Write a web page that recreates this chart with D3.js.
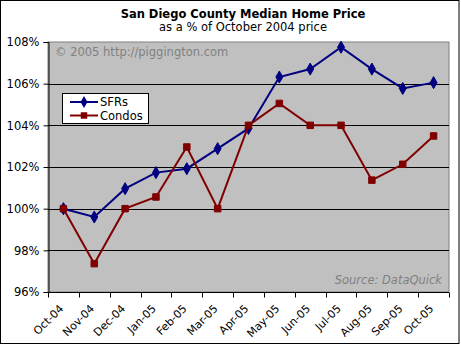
<!DOCTYPE html>
<html>
<head>
<meta charset="utf-8">
<script src="https://cdn.jsdelivr.net/npm/d3@7"></script>
<style>
  html, body { margin: 0; padding: 0; background: #fff; }
  svg { display: block; font-family: "DejaVu Sans", Verdana, sans-serif; }
</style>
</head>
<body>
<svg id="chart" width="461" height="345"></svg>
<script>
// Months, Oct 2004 through Oct 2005
const months = ["Oct-04", "Nov-04", "Dec-04", "Jan-05", "Feb-05", "Mar-05", "Apr-05",
                "May-05", "Jun-05", "Jul-05", "Aug-05", "Sep-05", "Oct-05"];
// Median price as % of the October 2004 price
const sfrValues   = [100, 99.6, 100.96, 101.73, 101.92, 102.88, 103.85, 106.32, 106.7, 107.75, 106.7, 105.77, 106.05];
const condoValues = [100, 97.36, 100, 100.56, 102.96, 100, 104, 105.05, 104, 104, 101.37, 102.13, 103.49];
const yTicks = [96, 98, 100, 102, 104, 106, 108];
const seriesNames = ["SFRs", "Condos"];

const svg = d3.select("#chart");
const plot = { left: 48, right: 449, top: 42, bottom: 292 };

// Outer frame
svg.append("rect").attr("x", 0.5).attr("y", 0.5).attr("width", 458.5).attr("height", 343)
  .attr("fill", "#fff").attr("stroke", "#000").attr("stroke-width", 1);

const x = d3.scaleBand().domain(months).range([plot.left, plot.right]);
const y = d3.scaleLinear().domain([96, 108]).range([plot.bottom, plot.top]);

// Plot area
svg.append("rect")
  .attr("x", plot.left).attr("y", plot.top)
  .attr("width", plot.right - plot.left).attr("height", plot.bottom - plot.top)
  .attr("fill", "#c0c0c0").attr("stroke", "#808080").attr("stroke-width", 1);

// Horizontal gridlines
svg.append("g").selectAll("line")
  .data(yTicks.filter(t => t > 96 && t < 108))
  .join("line")
  .attr("x1", plot.left).attr("x2", plot.right)
  .attr("y1", d => Math.round(y(d)) + 0.5).attr("y2", d => Math.round(y(d)) + 0.5)
  .attr("stroke", "#000").attr("stroke-width", 1);

// Y axis
const yAxis = svg.append("g")
  .attr("transform", `translate(${plot.left + 0.5},0)`)
  .call(d3.axisLeft(y).tickValues(yTicks).tickFormat(d => d + "%").tickSize(5).tickPadding(4));
yAxis.select(".domain").attr("stroke", "#000");
yAxis.selectAll("text").attr("font-size", 11.5).attr("fill", "#000")
  .attr("font-family", "'DejaVu Sans', Verdana, sans-serif");

// X axis: ticks between categories
const xAxisG = svg.append("g").attr("transform", `translate(0,${plot.bottom + 0.5})`);
xAxisG.append("line").attr("x1", plot.left).attr("x2", plot.right)
  .attr("stroke", "#000");
const boundaries = months.map(m => x(m)).concat([plot.right]);
xAxisG.selectAll("line.tick").data(boundaries).join("line").attr("class", "tick")
  .attr("x1", d => Math.round(d) + 0.5).attr("x2", d => Math.round(d) + 0.5)
  .attr("y1", 0).attr("y2", 5).attr("stroke", "#000");
xAxisG.selectAll("text").data(months).join("text")
  .attr("transform", d => `translate(${x(d) + x.bandwidth() / 2 - 2},${14}) rotate(-45)`)
  .attr("text-anchor", "end")
  .attr("dy", "0.35em")
  .attr("font-size", 11)
  .text(d => d);

// Titles
svg.append("text").attr("x", 243).attr("y", 18).attr("text-anchor", "middle")
  .attr("font-size", 11.5).attr("font-weight", "bold")
  .text("San Diego County Median Home Price");
svg.append("text").attr("x", 243).attr("y", 31).attr("text-anchor", "middle")
  .attr("font-size", 11.5)
  .text("as a % of October 2004 price");

// Plot annotations
svg.append("text").attr("x", 55).attr("y", 56).attr("font-size", 11.5).attr("fill", "#808080")
  .text("© 2005 http://piggington.com");
svg.append("text").attr("x", 442).attr("y", 284).attr("text-anchor", "end")
  .attr("font-size", 11.5).attr("font-style", "italic").attr("fill", "#808080")
  .text("Source: DataQuick");

// Series
const colors = { SFRs: "#000080", Condos: "#800000" };
const series = [
  { name: seriesNames[0], values: sfrValues, shape: d3.symbolDiamond, size: 42 },
  { name: seriesNames[1], values: condoValues, shape: d3.symbolSquare, size: 42 }
];
const line = d3.line()
  .x((d, i) => x(months[i]) + x.bandwidth() / 2)
  .y(d => y(d));

series.forEach(s => {
  const g = svg.append("g");
  g.append("path").datum(s.values).attr("d", line)
    .attr("fill", "none").attr("stroke", colors[s.name]).attr("stroke-width", 2);
  g.selectAll("path.mk").data(s.values).join("path").attr("class", "mk")
    .attr("transform", (d, i) => `translate(${x(months[i]) + x.bandwidth() / 2},${y(d)})`)
    .attr("d", d3.symbol().type(s.shape).size(s.size))
    .attr("fill", colors[s.name]).attr("stroke", colors[s.name]).attr("stroke-width", 1);
});

// Legend
const legend = svg.append("g");
legend.append("rect").attr("x", 62.5).attr("y", 93.5).attr("width", 86).attr("height", 30)
  .attr("fill", "#fff").attr("stroke", "#000");
series.forEach((s, i) => {
  const ly = 102 + i * 13.5;
  legend.append("line").attr("x1", 70).attr("x2", 98).attr("y1", ly).attr("y2", ly)
    .attr("stroke", colors[s.name]).attr("stroke-width", 2);
  legend.append("path").attr("transform", `translate(84,${ly})`)
    .attr("d", d3.symbol().type(s.shape).size(s.size)).attr("fill", colors[s.name]);
  legend.append("text").attr("x", 100).attr("y", ly).attr("dy", "0.36em")
    .attr("font-size", 11.5).text(s.name);
});
</script>
</body>
</html>
